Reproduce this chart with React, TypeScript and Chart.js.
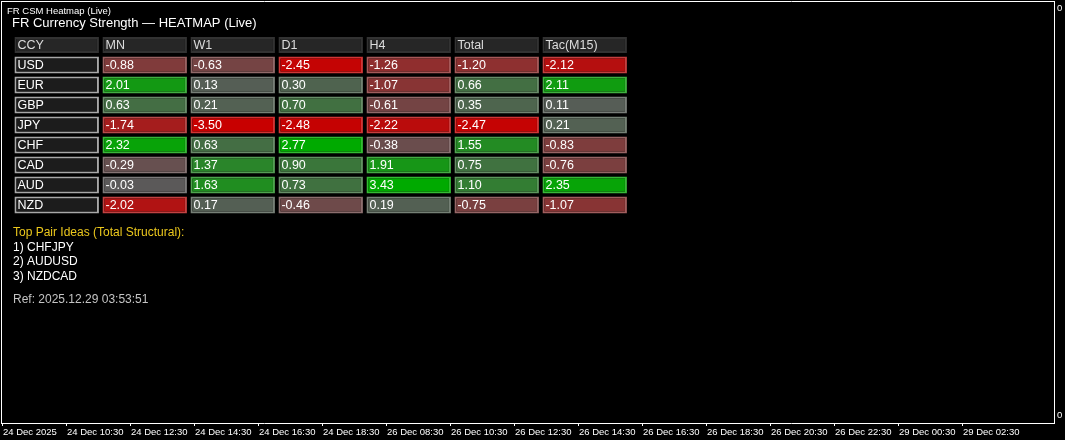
import React, { useEffect, useRef } from "react";
import { Chart, registerables } from "chart.js";

Chart.register(...registerables);

// ---- data ----
const currencies = ["USD", "EUR", "GBP", "JPY", "CHF", "CAD", "AUD", "NZD"];
const headerLabels = ["CCY", "MN", "W1", "D1", "H4", "Total", "Tac(M15)"];

const mnValues = [-0.88, 2.01, 0.63, -1.74, 2.32, -0.29, -0.03, -2.02];
const w1Values = [-0.63, 0.13, 0.21, -3.5, 0.63, 1.37, 1.63, 0.17];
const d1Values = [-2.45, 0.3, 0.7, -2.48, 2.77, 0.9, 0.73, -0.46];
const h4Values = [-1.26, -1.07, -0.61, -2.22, -0.38, 1.91, 3.43, 0.19];
const totalValues = [-1.2, 0.66, 0.35, -2.47, 1.55, 0.75, 1.1, -0.75];
const tacValues = [-2.12, 2.11, 0.11, 0.21, -0.83, -0.76, 2.35, -1.07];

const topPairs = ["CHFJPY", "AUDUSD", "NZDCAD"];
const refStamp = "2025.12.29 03:53:51";

const timeLabels = [
  "24 Dec 2025",
  "24 Dec 10:30",
  "24 Dec 12:30",
  "24 Dec 14:30",
  "24 Dec 16:30",
  "24 Dec 18:30",
  "26 Dec 08:30",
  "26 Dec 10:30",
  "26 Dec 12:30",
  "26 Dec 14:30",
  "26 Dec 16:30",
  "26 Dec 18:30",
  "26 Dec 20:30",
  "26 Dec 22:30",
  "29 Dec 00:30",
  "29 Dec 02:30",
];
const priceLabels = ["0", "0"];

const windowCaption = "FR CSM Heatmap (Live)";
const panelTitle = "FR Currency Strength \u2014 HEATMAP (Live)";
const ideasTitle = "Top Pair Ideas (Total Structural):";

// ---- styling helpers ----
const FONT = '"Liberation Sans", Arial, sans-serif';
const HALF = 0.48; // half width of a cell, in column units
const SAT = 2.55; // strength at which a cell reaches full colour
const NEUTRAL = [90, 90, 90];
const BEAR = [200, 0, 0];
const BULL = [0, 170, 0];

function heatRgb(v: number): number[] {
  const t = Math.min(Math.abs(v) / SAT, 1);
  const end = v < 0 ? BEAR : BULL;
  return NEUTRAL.map((n, k) => Math.round(n + (end[k] - n) * t));
}
function heat(v: number): string {
  return `rgb(${heatRgb(v).join(",")})`;
}
function heatEdge(v: number): string {
  const c = heatRgb(v).map((x) => Math.round(x + (255 - x) * 0.2));
  return `rgb(${c.join(",")})`;
}

const valueColumns = [mnValues, w1Values, d1Values, h4Values, totalValues, tacValues];

function buildDatasets() {
  const header = {
    label: "header",
    data: headerLabels.map((h, c) => ({ y: 0, x: [c - HALF, c + HALF], text: h })),
    backgroundColor: "#262626",
    borderColor: "#323232",
    borderWidth: 2,
    barThickness: 16,
    textColor: "#dcdcdc",
  };
  const ccy = {
    label: "ccy",
    data: currencies.map((name, r) => ({ y: r + 1, x: [-HALF, HALF], text: name })),
    backgroundColor: "#1c1c1c",
    borderColor: "#a8a8a8",
    borderWidth: 2,
    barThickness: 17,
    textColor: "#ffffff",
  };
  const cols = valueColumns.map((vals, c) => ({
    label: headerLabels[c + 1],
    data: vals.map((v, r) => ({
      y: r + 1,
      x: [c + 1 - HALF, c + 1 + HALF],
      text: v.toFixed(2),
    })),
    backgroundColor: vals.map(heat),
    borderColor: vals.map(heatEdge),
    borderWidth: 2,
    barThickness: 17,
    textColor: "#ffffff",
  }));
  return [header, ccy, ...cols].map((d) => ({
    ...d,
    grouped: false,
    borderSkipped: false,
    inflateAmount: 0,
  }));
}

// Writes each cell's label inside its bar.
const cellTextPlugin = {
  id: "cellText",
  afterDatasetsDraw(chart: any) {
    const ctx = chart.ctx;
    ctx.save();
    ctx.font = `12.5px ${FONT}`;
    ctx.textAlign = "left";
    ctx.textBaseline = "alphabetic";
    chart.data.datasets.forEach((ds: any, di: number) => {
      const meta = chart.getDatasetMeta(di);
      ctx.fillStyle = ds.textColor || "#fff";
      meta.data.forEach((el: any, i: number) => {
        const p = el.getProps(["x", "y", "base"], true);
        const left = Math.min(p.x, p.base);
        ctx.fillText(ds.data[i].text, left + 3, p.y + 4);
      });
    });
    ctx.restore();
  },
};

// Caption, panel title, pair ideas and timestamp around the table.
const panelTextPlugin = {
  id: "panelText",
  afterDraw(chart: any) {
    const ctx = chart.ctx;
    const ys = chart.scales.y;
    ctx.save();
    ctx.textAlign = "left";
    ctx.textBaseline = "alphabetic";

    ctx.fillStyle = "#ffffff";
    ctx.font = `9.5px ${FONT}`;
    ctx.fillText(windowCaption, 7, 14);

    const headY = ys.getPixelForValue(0);
    ctx.font = `13px ${FONT}`;
    ctx.fillText(panelTitle, 12, headY - 18.3);

    const below = ys.getPixelForValue(currencies.length + 1);
    ctx.font = `12px ${FONT}`;
    ctx.fillStyle = "#ecc81c";
    ctx.fillText(ideasTitle, 13, below + 11);
    ctx.fillStyle = "#ffffff";
    topPairs.forEach((p, i) => {
      ctx.fillText(`${i + 1}) ${p}`, 13, below + 25.5 + i * 14.5);
    });
    ctx.fillStyle = "#c4c4c4";
    ctx.fillText(`Ref: ${refStamp}`, 13, below + 78);
    ctx.restore();
  },
};

const frameBorder = { display: true, color: "#ffffff", width: 1 };

export default function App() {
  const canvasRef = useRef<HTMLCanvasElement | null>(null);

  useEffect(() => {
    if (!canvasRef.current) return;
    const chart = new Chart(canvasRef.current, {
      type: "bar",
      data: { datasets: buildDatasets() as any },
      plugins: [cellTextPlugin, panelTextPlugin],
      options: {
        animation: false,
        responsive: false,
        devicePixelRatio: 1,
        indexAxis: "y",
        events: [],
        layout: { padding: { left: 1, top: 1, right: 0, bottom: 0 } },
        plugins: {
          legend: { display: false },
          tooltip: { enabled: false },
        },
        scales: {
          // column positions of the table (CCY, MN, W1, ...)
          x: { type: "linear", display: false, offset: false, min: -0.633, max: 11.333 },
          // table rows: header then one row per currency
          y: {
            type: "linear",
            display: false,
            offset: false,
            reverse: true,
            min: -2.2,
            max: 18.9,
          },
          // time axis along the bottom edge
          xTime: {
            type: "linear",
            position: "bottom",
            offset: false,
            min: -0.03125,
            max: 16.422,
            afterBuildTicks: (s: any) => {
              s.ticks = timeLabels.map((_, i) => ({ value: i }));
            },
            afterFit: (s: any) => {
              s.height = 17;
              s.paddingLeft = 0;
              s.paddingRight = 0;
            },
            ticks: {
              autoSkip: false,
              maxRotation: 0,
              align: "start",
              color: "#ffffff",
              padding: 1,
              font: { family: FONT, size: 9.5 },
              callback: (_v: any, i: number) => timeLabels[i],
            },
            grid: {
              display: true,
              offset: false,
              drawOnChartArea: false,
              drawTicks: true,
              tickLength: 3,
              color: "#ffffff",
            },
            border: frameBorder,
          },
          // price scale on the right edge
          yPrice: {
            type: "linear",
            position: "right",
            offset: false,
            min: 0,
            max: 422,
            afterBuildTicks: (s: any) => {
              s.ticks = [{ value: 7.5 }, { value: 414.5 }];
            },
            afterFit: (s: any) => {
              s.width = 11;
              s.paddingTop = 0;
              s.paddingBottom = 0;
            },
            ticks: {
              color: "#ffffff",
              padding: 3,
              font: { family: FONT, size: 9.5 },
              callback: (_v: any, i: number) => priceLabels[i],
            },
            grid: { display: false, drawTicks: false, offset: false },
            border: frameBorder,
          },
          frameTop: {
            type: "linear",
            position: "top",
            offset: false,
            min: 0,
            max: 1,
            ticks: { display: false },
            grid: { display: false, drawTicks: false, offset: false },
            border: frameBorder,
            afterFit: (s: any) => {
              s.height = 0;
              s.paddingLeft = 0;
              s.paddingRight = 0;
            },
          },
          frameLeft: {
            type: "linear",
            position: "left",
            offset: false,
            min: 0,
            max: 1,
            ticks: { display: false },
            grid: { display: false, drawTicks: false, offset: false },
            border: frameBorder,
            afterFit: (s: any) => {
              s.width = 0;
              s.paddingTop = 0;
              s.paddingBottom = 0;
            },
          },
        } as any,
      },
    });
    return () => chart.destroy();
  }, []);

  return (
    <div
      style={{
        position: "absolute",
        left: 0,
        top: 0,
        width: 1065,
        height: 440,
        background: "#000000",
      }}
    >
      <canvas
        ref={canvasRef}
        width={1065}
        height={440}
        style={{ display: "block", width: 1065, height: 440 }}
      />
    </div>
  );
}
